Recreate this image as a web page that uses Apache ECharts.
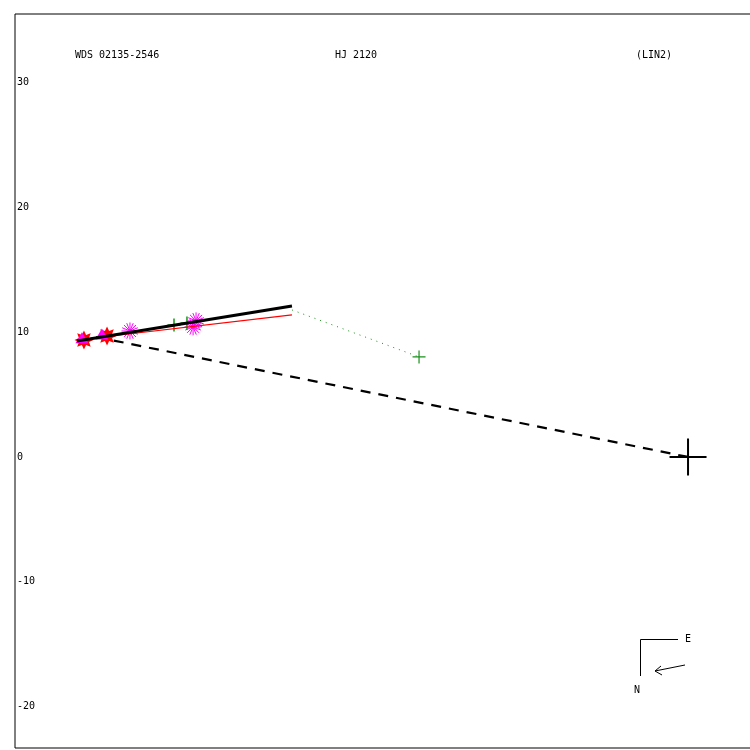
<!DOCTYPE html>
<html>
<head>
<meta charset="utf-8">
<script src="https://cdn.jsdelivr.net/npm/echarts@6/dist/echarts.min.js"></script>
<style>html,body{margin:0;padding:0;background:#fff}#c{width:750px;height:750px}</style>
</head>
<body>
<div id="c"></div>
<script>
// ---- data (x = east offset, y = north offset) ----
const yTicks = [-20, -10, 0, 10, 20, 30];
const primaryStar = [[0, 0]];
const fitLine = [[-49.0, 9.30], [-31.76, 12.11]];
const redFitLine = [[-49.0, 9.38], [-31.76, 11.39]];
const dottedLine = [[-31.76, 11.79], [-21.57, 8.02]];
const dashedLine = [[0, 0], [-47.47, 9.62]];
const greenCross = [[-21.57, 8.02]];
const greenPlus = [[-41.22, 10.59], [-40.18, 10.75]];
const magentaAsterisks = [[-44.75, 10.10], [-39.45, 10.91], [-39.69, 10.43]];
const redStars = [[-48.44, 9.38], [-46.59, 9.70]];
const magentaTriangles = [[-48.6, 9.55], [-47.0, 9.85]];
const titles = ['WDS 02135-2546', 'HJ 2120', '(LIN2)'];

const FONT = 'DejaVu Sans Mono';
const plusPath = 'path://M0,-10L0,10M-10,0L10,0';
const asteriskPath = 'path://M0,-10L0,10M-10,0L10,0M-7.07,-7.07L7.07,7.07M-7.07,7.07L7.07,-7.07M-3.8,-9.2L3.8,9.2M-9.2,-3.8L9.2,3.8M-3.8,9.2L3.8,-9.2M-9.2,3.8L9.2,-3.8';
const starPath = 'path://M0,-10L2.2,-5.3L7.1,-7.1L5.3,-2.2L10,0L5.3,2.2L7.1,7.1L2.2,5.3L0,10L-2.2,5.3L-7.1,7.1L-5.3,2.2L-10,0L-5.3,-2.2L-7.1,-7.1L-2.2,-5.3Z';

const chart = echarts.init(document.getElementById('c'), null, {renderer: 'canvas'});
chart.setOption({
  backgroundColor: '#fff',
  animation: false,
  title: [
    {text: titles[0], left: 75, top: 50},
    {text: titles[1], left: 335, top: 50},
    {text: titles[2], left: 636, top: 50}
  ].map(t => Object.assign(t, {padding: 0, textStyle: {fontFamily: FONT, fontSize: 10, fontWeight: 'normal', color: '#000'}})),
  grid: {left: 15, top: 14, width: 740, height: 734, show: true, borderColor: '#000', borderWidth: 1, backgroundColor: '#fff', outerBoundsMode: 'none', containLabel: false},
  xAxis: {type: 'value', min: -53.97, max: 5.37, show: false},
  yAxis: {
    type: 'value', min: -23.34, max: 35.52,
    axisLine: {show: false}, axisTick: {show: false}, splitLine: {show: false},
    axisLabel: {inside: true, margin: 2, customValues: yTicks, fontFamily: FONT, fontSize: 10, color: '#000'}
  },
  series: [
    {type: 'line', data: dashedLine, symbol: 'none', z: 3, lineStyle: {color: '#000', width: 2.2, type: [10, 8]}},
    {type: 'line', data: dottedLine, symbol: 'none', z: 3, lineStyle: {color: '#1a8f1a', width: 1, type: [1, 5]}},
    {type: 'scatter', data: redStars, symbol: starPath, symbolSize: 19, z: 4, itemStyle: {color: '#ff0000', opacity: 1}},
    {type: 'scatter', data: magentaTriangles, symbol: 'triangle', symbolSize: [13, 11], z: 5, itemStyle: {color: '#ff00ff', opacity: 1}},
    {type: 'scatter', data: magentaAsterisks, symbol: asteriskPath, symbolSize: 17, z: 5, itemStyle: {color: 'none', borderColor: '#ff00ff', borderWidth: 1, opacity: 1}},
    {type: 'scatter', data: greenPlus, symbol: plusPath, symbolSize: 13, z: 5, itemStyle: {color: 'none', borderColor: '#119911', borderWidth: 1.5, opacity: 1}},
    {type: 'scatter', data: greenCross, symbol: plusPath, symbolSize: 13, z: 5, itemStyle: {color: 'none', borderColor: '#1a8f1a', borderWidth: 1.2, opacity: 1}},
    {type: 'line', data: redFitLine, symbol: 'none', z: 6, lineStyle: {color: '#ff0000', width: 1.2}},
    {type: 'line', data: fitLine, symbol: 'none', z: 7, lineStyle: {color: '#000', width: 3}},
    {type: 'scatter', data: primaryStar, symbol: plusPath, symbolSize: 37, z: 8, itemStyle: {color: 'none', borderColor: '#000', borderWidth: 2, opacity: 1}}
  ],
  graphic: [
    {type: 'polyline', shape: {points: [[678, 639.5], [640.5, 639.5], [640.5, 676]]}, style: {stroke: '#000', lineWidth: 1, fill: null}},
    {type: 'text', x: 685, y: 634, style: {text: 'E', font: '10px ' + FONT, fill: '#000'}},
    {type: 'text', x: 634, y: 685, style: {text: 'N', font: '10px ' + FONT, fill: '#000'}},
    {type: 'polyline', shape: {points: [[685, 665], [655, 671]]}, style: {stroke: '#000', lineWidth: 1, fill: null}},
    {type: 'polyline', shape: {points: [[661, 666], [655, 671], [662, 675]]}, style: {stroke: '#000', lineWidth: 1, fill: null}}
  ]
});
</script>
</body>
</html>
